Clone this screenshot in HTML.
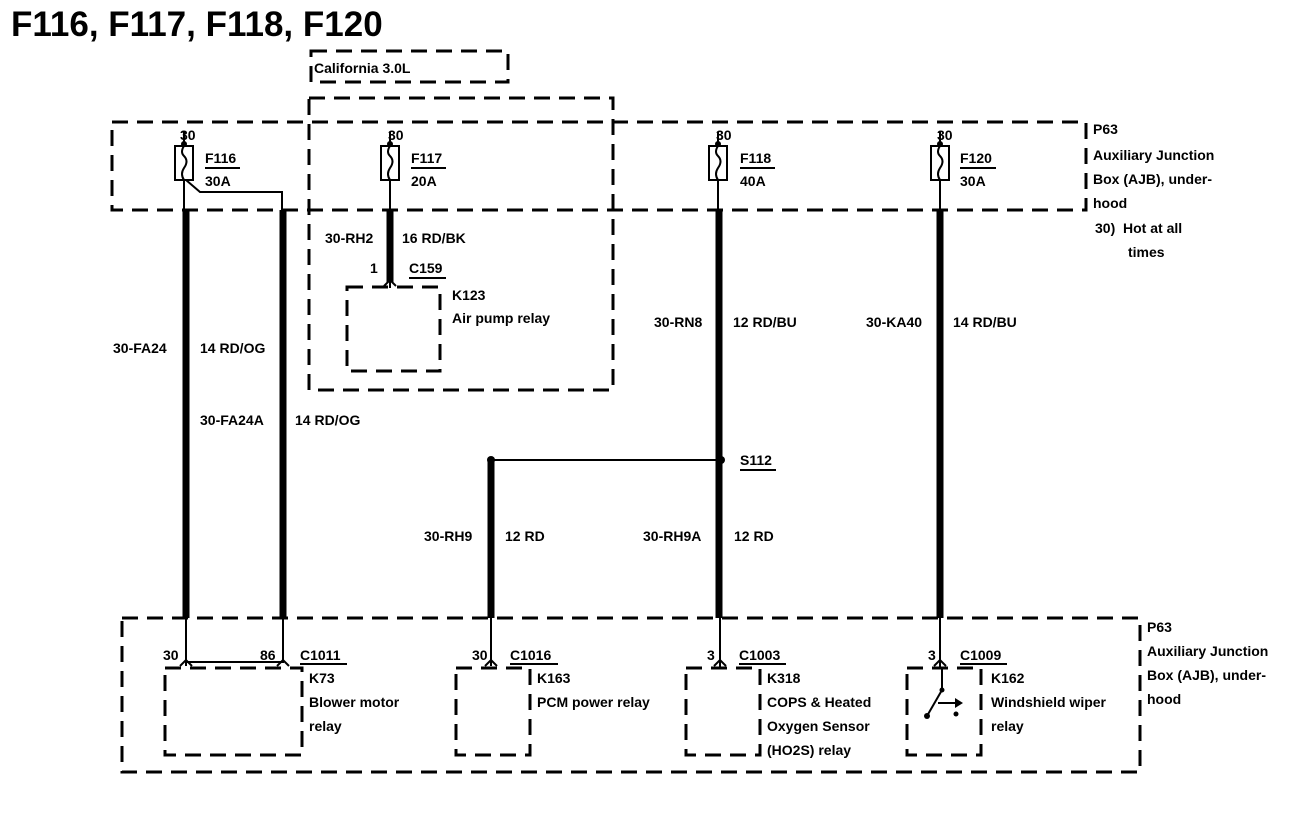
<!DOCTYPE html>
<html><head><meta charset="utf-8"><style>
html,body{margin:0;padding:0;background:#fff;width:1312px;height:818px;overflow:hidden}
svg{display:block}
text{font-family:"Liberation Sans",Arial,sans-serif;font-weight:bold;fill:#000}
.l{font-size:14px}
</style></head><body>
<svg width="1312" height="818" viewBox="0 0 1312 818">
<text x="11" y="36" style="font-size:35px">F116, F117, F118, F120</text>

<g fill="none" stroke="#000" stroke-width="3" stroke-dasharray="16,9">
<rect x="311" y="51" width="197" height="31"/>
<rect x="309" y="98" width="304" height="292"/>
<rect x="112" y="122" width="974" height="88"/>
<rect x="347" y="287" width="93" height="84"/>
<rect x="122" y="618" width="1018" height="154"/>
<rect x="165" y="668" width="137" height="87"/>
<rect x="456" y="668" width="74" height="87"/>
<rect x="686" y="668" width="74" height="87"/>
<rect x="907" y="668" width="74" height="87"/>
</g>

<g stroke="#000" fill="none">
<g stroke-width="7">
<line x1="186" y1="210" x2="186" y2="618"/>
<line x1="283" y1="210" x2="283" y2="618"/>
<line x1="390" y1="210" x2="390" y2="282"/>
<line x1="719" y1="210" x2="719" y2="618"/>
<line x1="491" y1="462" x2="491" y2="618"/>
<line x1="940" y1="210" x2="940" y2="618"/>
</g>
<g stroke-width="2">
<line x1="184" y1="132" x2="184" y2="146"/>
<line x1="390" y1="132" x2="390" y2="146"/>
<line x1="718" y1="132" x2="718" y2="146"/>
<line x1="940" y1="132" x2="940" y2="146"/>
<rect x="175" y="146" width="18" height="34"/>
<rect x="381" y="146" width="18" height="34"/>
<rect x="709" y="146" width="18" height="34"/>
<rect x="931" y="146" width="18" height="34"/>
<path d="M184 146 q-4 6 0 10 q5 5 0 12 q-4 6 0 12"/>
<path d="M390 146 q-4 6 0 10 q5 5 0 12 q-4 6 0 12"/>
<path d="M718 146 q-4 6 0 10 q5 5 0 12 q-4 6 0 12"/>
<path d="M940 146 q-4 6 0 10 q5 5 0 12 q-4 6 0 12"/>
<line x1="184" y1="180" x2="184" y2="212"/>
<line x1="390" y1="180" x2="390" y2="212"/>
<line x1="718" y1="180" x2="718" y2="212"/>
<line x1="940" y1="180" x2="940" y2="212"/>
<polyline points="186,180 200,192 282,192 282,212"/>
<line x1="390" y1="280" x2="390" y2="288"/>
<path d="M384 286 l6 -6 l6 6"/>
<line x1="491" y1="460" x2="721" y2="460"/>
<line x1="186" y1="616" x2="186" y2="666"/>
<line x1="283" y1="616" x2="283" y2="663"/>
<line x1="186" y1="662" x2="283" y2="662"/>
<path d="M180 666 l6 -6 l6 6"/>
<path d="M277 666 l6 -6 l6 6"/>
<line x1="491" y1="616" x2="491" y2="666"/>
<path d="M485 666 l6 -6 l6 6"/>
<line x1="720" y1="616" x2="720" y2="668"/>
<path d="M714 666 l6 -6 l6 6"/>
<line x1="940" y1="616" x2="940" y2="668"/>
<path d="M934 666 l6 -6 l6 6"/>
<line x1="942" y1="668" x2="942" y2="690"/>
<line x1="942" y1="690" x2="927" y2="716"/>
<line x1="938" y1="703" x2="955" y2="703"/>
</g>
</g>
<g fill="#000">
<circle cx="184" cy="144" r="3"/><circle cx="390" cy="144" r="3"/><circle cx="718" cy="144" r="3"/><circle cx="940" cy="144" r="3"/>
<circle cx="491" cy="460" r="4"/><circle cx="721" cy="460" r="4"/>
<circle cx="942" cy="690" r="2.5"/><circle cx="927" cy="716" r="3"/><circle cx="956" cy="714" r="2.5"/>
<path d="M955 698 l8 5 l-8 5z"/>
</g>

<g class="l">
<text x="314" y="73" style="font-size:14px">California 3.0L</text>
<text x="180" y="140">30</text><text x="388" y="140">30</text><text x="716" y="140">30</text><text x="937" y="140">30</text>
<text x="205" y="163">F116</text><text x="205" y="186">30A</text>
<text x="411" y="163">F117</text><text x="411" y="186">20A</text>
<text x="740" y="163">F118</text><text x="740" y="186">40A</text>
<text x="960" y="163">F120</text><text x="960" y="186">30A</text>
<line x1="205" y1="168" x2="240" y2="168" stroke="#000" stroke-width="2"/>
<line x1="411" y1="168" x2="446" y2="168" stroke="#000" stroke-width="2"/>
<line x1="740" y1="168" x2="775" y2="168" stroke="#000" stroke-width="2"/>
<line x1="960" y1="168" x2="996" y2="168" stroke="#000" stroke-width="2"/>
<text x="1093" y="134">P63</text>
<text x="1093" y="160">Auxiliary Junction</text>
<text x="1093" y="184">Box (AJB), under-</text>
<text x="1093" y="208">hood</text>
<text x="1095" y="233">30)&#160;&#160;Hot at all</text>
<text x="1128" y="257">times</text>
<text x="325" y="243">30-RH2</text><text x="402" y="243">16 RD/BK</text>
<text x="370" y="273">1</text><text x="409" y="273">C159</text>
<line x1="409" y1="278" x2="446" y2="278" stroke="#000" stroke-width="2"/>
<text x="452" y="300">K123</text><text x="452" y="323">Air pump relay</text>
<text x="113" y="353">30-FA24</text><text x="200" y="353">14 RD/OG</text>
<text x="200" y="425">30-FA24A</text><text x="295" y="425">14 RD/OG</text>
<text x="654" y="327">30-RN8</text><text x="733" y="327">12 RD/BU</text>
<text x="866" y="327">30-KA40</text><text x="953" y="327">14 RD/BU</text>
<text x="740" y="465">S112</text>
<line x1="740" y1="470" x2="776" y2="470" stroke="#000" stroke-width="2"/>
<text x="424" y="541">30-RH9</text><text x="505" y="541">12 RD</text>
<text x="643" y="541">30-RH9A</text><text x="734" y="541">12 RD</text>
<text x="1147" y="632">P63</text>
<text x="1147" y="656">Auxiliary Junction</text>
<text x="1147" y="680">Box (AJB), under-</text>
<text x="1147" y="704">hood</text>
<text x="163" y="660">30</text><text x="260" y="660">86</text><text x="300" y="660">C1011</text>
<line x1="300" y1="664" x2="347" y2="664" stroke="#000" stroke-width="2"/>
<text x="472" y="660">30</text><text x="510" y="660">C1016</text>
<line x1="510" y1="664" x2="558" y2="664" stroke="#000" stroke-width="2"/>
<text x="707" y="660">3</text><text x="739" y="660">C1003</text>
<line x1="739" y1="664" x2="786" y2="664" stroke="#000" stroke-width="2"/>
<text x="928" y="660">3</text><text x="960" y="660">C1009</text>
<line x1="960" y1="664" x2="1007" y2="664" stroke="#000" stroke-width="2"/>
<text x="309" y="683">K73</text><text x="309" y="707">Blower motor</text><text x="309" y="731">relay</text>
<text x="537" y="683">K163</text><text x="537" y="707">PCM power relay</text>
<text x="767" y="683">K318</text><text x="767" y="707">COPS &amp; Heated</text><text x="767" y="731">Oxygen Sensor</text><text x="767" y="755">(HO2S) relay</text>
<text x="991" y="683">K162</text><text x="991" y="707">Windshield wiper</text><text x="991" y="731">relay</text>
</g>
</svg>
</body></html>
